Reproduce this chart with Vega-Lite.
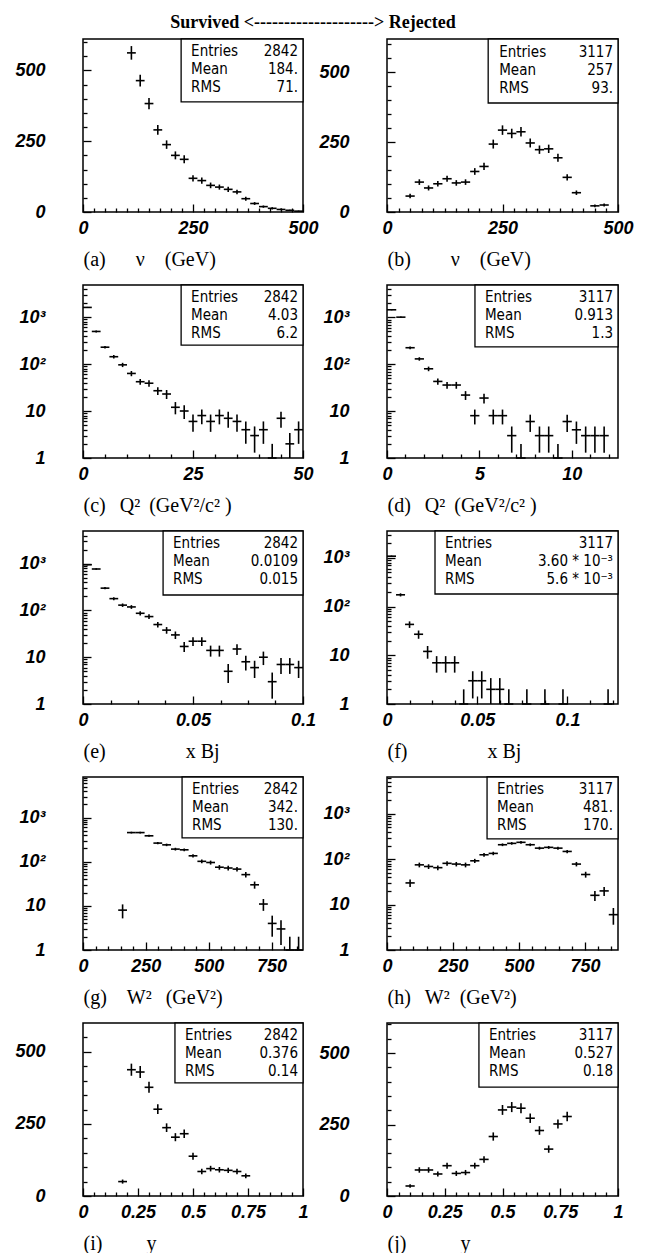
{
"$schema": "https://vega.github.io/schema/vega-lite/v6.json",
"background": "white",
"padding": {"left": 14, "top": 13, "right": 0, "bottom": 0},
"title": {"text": "Survived <--------------------> Rejected", "font": "Liberation Serif", "fontSize": 18, "fontWeight": "bold", "anchor": "middle", "dx": -11, "offset": 6, "color": "black"},
"config": {
  "view": {"stroke": "black", "strokeWidth": 1.5},
  "axis": {"domain": false, "grid": false, "labelFont": "Liberation Sans", "labelFontSize": 18, "labelFontStyle": "italic", "labelFontWeight": "bold", "labelColor": "black", "tickColor": "black", "tickWidth": 1.3, "labelFlush": false, "labelOverlap": false, "titleFont": "Liberation Serif", "titleFontSize": 20, "titleFontWeight": "normal", "titleColor": "black"}
},
"datasets": {
"stats": [
{"p":"a","k":["Entries","Mean","RMS"],"v":["2842","184.","71."]},
{"p":"b","k":["Entries","Mean","RMS"],"v":["3117","257","93."]},
{"p":"c","k":["Entries","Mean","RMS"],"v":["2842","4.03","6.2"]},
{"p":"d","k":["Entries","Mean","RMS"],"v":["3117","0.913","1.3"]},
{"p":"e","k":["Entries","Mean","RMS"],"v":["2842","0.0109","0.015"]},
{"p":"f","k":["Entries","Mean","RMS"],"v":["3117","3.60 * 10⁻³","5.6 * 10⁻³"]},
{"p":"g","k":["Entries","Mean","RMS"],"v":["2842","342.","130."]},
{"p":"h","k":["Entries","Mean","RMS"],"v":["3117","481.","170."]},
{"p":"i","k":["Entries","Mean","RMS"],"v":["2842","0.376","0.14"]},
{"p":"j","k":["Entries","Mean","RMS"],"v":["3117","0.527","0.18"]}
],
"hist": [
{"p":"a","x0":100,"x1":120,"xc":110,"n":562,"lo":538,"hi":586},
{"p":"a","x0":120,"x1":140,"xc":130,"n":464,"lo":443,"hi":485},
{"p":"a","x0":140,"x1":160,"xc":150,"n":383,"lo":363,"hi":403},
{"p":"a","x0":160,"x1":180,"xc":170,"n":290,"lo":273,"hi":307},
{"p":"a","x0":180,"x1":200,"xc":190,"n":238,"lo":223,"hi":253},
{"p":"a","x0":200,"x1":220,"xc":210,"n":200,"lo":186,"hi":214},
{"p":"a","x0":220,"x1":240,"xc":230,"n":186,"lo":172,"hi":200},
{"p":"a","x0":240,"x1":260,"xc":250,"n":119,"lo":108,"hi":130},
{"p":"a","x0":260,"x1":280,"xc":270,"n":111,"lo":100,"hi":122},
{"p":"a","x0":280,"x1":300,"xc":290,"n":94,"lo":84,"hi":104},
{"p":"a","x0":300,"x1":320,"xc":310,"n":88,"lo":79,"hi":97},
{"p":"a","x0":320,"x1":340,"xc":330,"n":80,"lo":71,"hi":89},
{"p":"a","x0":340,"x1":360,"xc":350,"n":71,"lo":63,"hi":79},
{"p":"a","x0":360,"x1":380,"xc":370,"n":47,"lo":40,"hi":54},
{"p":"a","x0":380,"x1":400,"xc":390,"n":30,"lo":25,"hi":35},
{"p":"a","x0":400,"x1":420,"xc":410,"n":19,"lo":15,"hi":23},
{"p":"a","x0":420,"x1":440,"xc":430,"n":13,"lo":9,"hi":17},
{"p":"a","x0":440,"x1":460,"xc":450,"n":9,"lo":6,"hi":12},
{"p":"a","x0":460,"x1":480,"xc":470,"n":6,"lo":4,"hi":8},
{"p":"a","x0":480,"x1":500,"xc":490,"n":3,"lo":1,"hi":5},
{"p":"b","x0":40,"x1":60,"xc":50,"n":57,"lo":49,"hi":65},
{"p":"b","x0":60,"x1":80,"xc":70,"n":107,"lo":97,"hi":117},
{"p":"b","x0":80,"x1":100,"xc":90,"n":86,"lo":77,"hi":95},
{"p":"b","x0":100,"x1":120,"xc":110,"n":101,"lo":91,"hi":111},
{"p":"b","x0":120,"x1":140,"xc":130,"n":119,"lo":108,"hi":130},
{"p":"b","x0":140,"x1":160,"xc":150,"n":104,"lo":94,"hi":114},
{"p":"b","x0":160,"x1":180,"xc":170,"n":107,"lo":97,"hi":117},
{"p":"b","x0":180,"x1":200,"xc":190,"n":145,"lo":133,"hi":157},
{"p":"b","x0":200,"x1":220,"xc":210,"n":163,"lo":150,"hi":176},
{"p":"b","x0":220,"x1":240,"xc":230,"n":243,"lo":227,"hi":259},
{"p":"b","x0":240,"x1":260,"xc":250,"n":293,"lo":276,"hi":310},
{"p":"b","x0":260,"x1":280,"xc":270,"n":281,"lo":264,"hi":298},
{"p":"b","x0":280,"x1":300,"xc":290,"n":287,"lo":270,"hi":304},
{"p":"b","x0":300,"x1":320,"xc":310,"n":247,"lo":231,"hi":263},
{"p":"b","x0":320,"x1":340,"xc":330,"n":223,"lo":208,"hi":238},
{"p":"b","x0":340,"x1":360,"xc":350,"n":226,"lo":211,"hi":241},
{"p":"b","x0":360,"x1":380,"xc":370,"n":194,"lo":180,"hi":208},
{"p":"b","x0":380,"x1":400,"xc":390,"n":124,"lo":113,"hi":135},
{"p":"b","x0":400,"x1":420,"xc":410,"n":69,"lo":61,"hi":77},
{"p":"b","x0":440,"x1":460,"xc":450,"n":22,"lo":17,"hi":27},
{"p":"b","x0":460,"x1":480,"xc":470,"n":25,"lo":20,"hi":30},
{"p":"c","x0":0,"x1":2,"xc":1,"n":1600,"lo":1560,"hi":1640},
{"p":"c","x0":2,"x1":4,"xc":3,"n":493,"lo":471,"hi":515},
{"p":"c","x0":4,"x1":6,"xc":5,"n":228,"lo":213,"hi":243},
{"p":"c","x0":6,"x1":8,"xc":7,"n":143,"lo":131,"hi":155},
{"p":"c","x0":8,"x1":10,"xc":9,"n":96,"lo":86,"hi":106},
{"p":"c","x0":10,"x1":12,"xc":11,"n":63,"lo":55,"hi":71},
{"p":"c","x0":12,"x1":14,"xc":13,"n":42,"lo":36,"hi":48},
{"p":"c","x0":14,"x1":16,"xc":15,"n":39,"lo":33,"hi":45},
{"p":"c","x0":16,"x1":18,"xc":17,"n":27,"lo":22,"hi":32},
{"p":"c","x0":18,"x1":20,"xc":19,"n":23,"lo":18,"hi":28},
{"p":"c","x0":20,"x1":22,"xc":21,"n":12,"lo":8.5,"hi":15.5},
{"p":"c","x0":22,"x1":24,"xc":23,"n":10,"lo":6.8,"hi":13.2},
{"p":"c","x0":24,"x1":26,"xc":25,"n":6,"lo":3.6,"hi":8.4},
{"p":"c","x0":26,"x1":28,"xc":27,"n":8,"lo":5.2,"hi":10.8},
{"p":"c","x0":28,"x1":30,"xc":29,"n":6,"lo":3.6,"hi":8.4},
{"p":"c","x0":30,"x1":32,"xc":31,"n":8,"lo":5.2,"hi":10.8},
{"p":"c","x0":32,"x1":34,"xc":33,"n":7,"lo":4.4,"hi":9.6},
{"p":"c","x0":34,"x1":36,"xc":35,"n":6,"lo":3.6,"hi":8.4},
{"p":"c","x0":36,"x1":38,"xc":37,"n":4,"lo":2,"hi":6},
{"p":"c","x0":38,"x1":40,"xc":39,"n":3,"lo":1.3,"hi":4.7},
{"p":"c","x0":40,"x1":42,"xc":41,"n":4,"lo":2,"hi":6},
{"p":"c","x0":42,"x1":44,"xc":43,"n":1,"lo":1,"hi":2},
{"p":"c","x0":44,"x1":46,"xc":45,"n":7,"lo":4.4,"hi":9.6},
{"p":"c","x0":46,"x1":48,"xc":47,"n":2,"lo":1,"hi":3.4},
{"p":"c","x0":48,"x1":50,"xc":49,"n":4,"lo":2,"hi":6},
{"p":"d","x0":0,"x1":0.5,"xc":0.25,"n":1450,"lo":1412,"hi":1488},
{"p":"d","x0":0.5,"x1":1,"xc":0.75,"n":1010,"lo":978,"hi":1042},
{"p":"d","x0":1,"x1":1.5,"xc":1.25,"n":225,"lo":210,"hi":240},
{"p":"d","x0":1.5,"x1":2,"xc":1.75,"n":130,"lo":119,"hi":141},
{"p":"d","x0":2,"x1":2.5,"xc":2.25,"n":80,"lo":71,"hi":89},
{"p":"d","x0":2.5,"x1":3,"xc":2.75,"n":43,"lo":36.4,"hi":49.6},
{"p":"d","x0":3,"x1":3.5,"xc":3.25,"n":36,"lo":30,"hi":42},
{"p":"d","x0":3.5,"x1":4,"xc":3.75,"n":36,"lo":30,"hi":42},
{"p":"d","x0":4,"x1":4.5,"xc":4.25,"n":22,"lo":17.3,"hi":26.7},
{"p":"d","x0":4.5,"x1":5,"xc":4.75,"n":8,"lo":5.2,"hi":10.8},
{"p":"d","x0":5,"x1":5.5,"xc":5.25,"n":19,"lo":14.6,"hi":23.4},
{"p":"d","x0":5.5,"x1":6,"xc":5.75,"n":8,"lo":5.2,"hi":10.8},
{"p":"d","x0":6,"x1":6.5,"xc":6.25,"n":8,"lo":5.2,"hi":10.8},
{"p":"d","x0":6.5,"x1":7,"xc":6.75,"n":3,"lo":1.3,"hi":4.7},
{"p":"d","x0":7,"x1":7.5,"xc":7.25,"n":1,"lo":1,"hi":2},
{"p":"d","x0":7.5,"x1":8,"xc":7.75,"n":6,"lo":3.6,"hi":8.4},
{"p":"d","x0":8,"x1":8.5,"xc":8.25,"n":3,"lo":1.3,"hi":4.7},
{"p":"d","x0":8.5,"x1":9,"xc":8.75,"n":3,"lo":1.3,"hi":4.7},
{"p":"d","x0":9,"x1":9.5,"xc":9.25,"n":1,"lo":1,"hi":2},
{"p":"d","x0":9.5,"x1":10,"xc":9.75,"n":6,"lo":3.6,"hi":8.4},
{"p":"d","x0":10,"x1":10.5,"xc":10.25,"n":4,"lo":2,"hi":6},
{"p":"d","x0":10.5,"x1":11,"xc":10.75,"n":3,"lo":1.3,"hi":4.7},
{"p":"d","x0":11,"x1":11.5,"xc":11.25,"n":3,"lo":1.3,"hi":4.7},
{"p":"d","x0":11.5,"x1":12,"xc":11.75,"n":3,"lo":1.3,"hi":4.7},
{"p":"e","x0":0,"x1":0.004,"xc":0.002,"n":950,"lo":919,"hi":981},
{"p":"e","x0":0.004,"x1":0.008,"xc":0.006,"n":770,"lo":742,"hi":798},
{"p":"e","x0":0.008,"x1":0.012,"xc":0.01,"n":300,"lo":283,"hi":317},
{"p":"e","x0":0.012,"x1":0.016,"xc":0.014,"n":179,"lo":166,"hi":192},
{"p":"e","x0":0.016,"x1":0.02,"xc":0.018,"n":130,"lo":119,"hi":141},
{"p":"e","x0":0.02,"x1":0.024,"xc":0.022,"n":119,"lo":108,"hi":130},
{"p":"e","x0":0.024,"x1":0.028,"xc":0.026,"n":87,"lo":78,"hi":96},
{"p":"e","x0":0.028,"x1":0.032,"xc":0.03,"n":74,"lo":65.4,"hi":82.6},
{"p":"e","x0":0.032,"x1":0.036,"xc":0.034,"n":50,"lo":43,"hi":57},
{"p":"e","x0":0.036,"x1":0.04,"xc":0.038,"n":38,"lo":31.8,"hi":44.2},
{"p":"e","x0":0.04,"x1":0.044,"xc":0.042,"n":30,"lo":24.5,"hi":35.5},
{"p":"e","x0":0.044,"x1":0.048,"xc":0.046,"n":17,"lo":12.9,"hi":21.1},
{"p":"e","x0":0.048,"x1":0.052,"xc":0.05,"n":22,"lo":17.3,"hi":26.7},
{"p":"e","x0":0.052,"x1":0.056,"xc":0.054,"n":22,"lo":17.3,"hi":26.7},
{"p":"e","x0":0.056,"x1":0.06,"xc":0.058,"n":14,"lo":10.3,"hi":17.7},
{"p":"e","x0":0.06,"x1":0.064,"xc":0.062,"n":14,"lo":10.3,"hi":17.7},
{"p":"e","x0":0.064,"x1":0.068,"xc":0.066,"n":5,"lo":2.8,"hi":7.2},
{"p":"e","x0":0.068,"x1":0.072,"xc":0.07,"n":15,"lo":11.1,"hi":18.9},
{"p":"e","x0":0.072,"x1":0.076,"xc":0.074,"n":8,"lo":5.2,"hi":10.8},
{"p":"e","x0":0.076,"x1":0.08,"xc":0.078,"n":6,"lo":3.6,"hi":8.4},
{"p":"e","x0":0.08,"x1":0.084,"xc":0.082,"n":10,"lo":6.8,"hi":13.2},
{"p":"e","x0":0.084,"x1":0.088,"xc":0.086,"n":3,"lo":1.3,"hi":4.7},
{"p":"e","x0":0.088,"x1":0.092,"xc":0.09,"n":7,"lo":4.4,"hi":9.6},
{"p":"e","x0":0.092,"x1":0.096,"xc":0.094,"n":7,"lo":4.4,"hi":9.6},
{"p":"e","x0":0.096,"x1":0.1,"xc":0.098,"n":6,"lo":3.6,"hi":8.4},
{"p":"f","x0":0,"x1":0.005,"xc":0.0025,"n":1080,"lo":1047,"hi":1113},
{"p":"f","x0":0.005,"x1":0.01,"xc":0.0075,"n":174,"lo":161,"hi":187},
{"p":"f","x0":0.01,"x1":0.015,"xc":0.0125,"n":43,"lo":36.4,"hi":49.6},
{"p":"f","x0":0.015,"x1":0.02,"xc":0.0175,"n":27,"lo":21.8,"hi":32.2},
{"p":"f","x0":0.02,"x1":0.025,"xc":0.0225,"n":12,"lo":8.5,"hi":15.5},
{"p":"f","x0":0.025,"x1":0.03,"xc":0.0275,"n":7,"lo":4.4,"hi":9.6},
{"p":"f","x0":0.03,"x1":0.035,"xc":0.0325,"n":7,"lo":4.4,"hi":9.6},
{"p":"f","x0":0.035,"x1":0.04,"xc":0.0375,"n":7,"lo":4.4,"hi":9.6},
{"p":"f","x0":0.04,"x1":0.045,"xc":0.0425,"n":1,"lo":1,"hi":2},
{"p":"f","x0":0.045,"x1":0.05,"xc":0.0475,"n":3,"lo":1.3,"hi":4.7},
{"p":"f","x0":0.05,"x1":0.055,"xc":0.0525,"n":3,"lo":1.3,"hi":4.7},
{"p":"f","x0":0.055,"x1":0.06,"xc":0.0575,"n":2,"lo":1,"hi":3.4},
{"p":"f","x0":0.06,"x1":0.065,"xc":0.0625,"n":2,"lo":1,"hi":3.4},
{"p":"f","x0":0.065,"x1":0.07,"xc":0.0675,"n":1,"lo":1,"hi":2},
{"p":"f","x0":0.075,"x1":0.08,"xc":0.0775,"n":1,"lo":1,"hi":2},
{"p":"f","x0":0.085,"x1":0.09,"xc":0.0875,"n":1,"lo":1,"hi":2},
{"p":"f","x0":0.095,"x1":0.1,"xc":0.0975,"n":1,"lo":1,"hi":2},
{"p":"f","x0":0.12,"x1":0.125,"xc":0.1225,"n":1,"lo":1,"hi":2},
{"p":"g","x0":140,"x1":175,"xc":157.5,"n":8,"lo":5.2,"hi":10.8},
{"p":"g","x0":175,"x1":210,"xc":192.5,"n":457,"lo":436,"hi":478},
{"p":"g","x0":210,"x1":245,"xc":227.5,"n":457,"lo":436,"hi":478},
{"p":"g","x0":245,"x1":280,"xc":262.5,"n":386,"lo":366,"hi":406},
{"p":"g","x0":280,"x1":315,"xc":297.5,"n":264,"lo":248,"hi":280},
{"p":"g","x0":315,"x1":350,"xc":332.5,"n":241,"lo":225,"hi":257},
{"p":"g","x0":350,"x1":385,"xc":367.5,"n":193,"lo":179,"hi":207},
{"p":"g","x0":385,"x1":420,"xc":402.5,"n":186,"lo":172,"hi":200},
{"p":"g","x0":420,"x1":455,"xc":437.5,"n":136,"lo":124,"hi":148},
{"p":"g","x0":455,"x1":490,"xc":472.5,"n":102,"lo":92,"hi":112},
{"p":"g","x0":490,"x1":525,"xc":507.5,"n":96,"lo":86,"hi":106},
{"p":"g","x0":525,"x1":560,"xc":542.5,"n":75,"lo":66,"hi":84},
{"p":"g","x0":560,"x1":595,"xc":577.5,"n":72,"lo":63.5,"hi":80.5},
{"p":"g","x0":595,"x1":630,"xc":612.5,"n":68,"lo":59.8,"hi":76.2},
{"p":"g","x0":630,"x1":665,"xc":647.5,"n":51,"lo":43.9,"hi":58.1},
{"p":"g","x0":665,"x1":700,"xc":682.5,"n":30,"lo":24.5,"hi":35.5},
{"p":"g","x0":700,"x1":735,"xc":717.5,"n":11,"lo":7.7,"hi":14.3},
{"p":"g","x0":735,"x1":770,"xc":752.5,"n":4,"lo":2,"hi":6},
{"p":"g","x0":770,"x1":805,"xc":787.5,"n":3,"lo":1.3,"hi":4.7},
{"p":"g","x0":805,"x1":840,"xc":822.5,"n":1,"lo":1,"hi":2},
{"p":"g","x0":840,"x1":875,"xc":857.5,"n":1,"lo":1,"hi":2},
{"p":"h","x0":70,"x1":105,"xc":87.5,"n":30,"lo":24.5,"hi":35.5},
{"p":"h","x0":105,"x1":140,"xc":122.5,"n":75,"lo":66,"hi":84},
{"p":"h","x0":140,"x1":175,"xc":157.5,"n":69,"lo":60.7,"hi":77.3},
{"p":"h","x0":175,"x1":210,"xc":192.5,"n":65,"lo":57,"hi":73},
{"p":"h","x0":210,"x1":245,"xc":227.5,"n":81,"lo":72,"hi":90},
{"p":"h","x0":245,"x1":280,"xc":262.5,"n":78,"lo":69.2,"hi":86.8},
{"p":"h","x0":280,"x1":315,"xc":297.5,"n":75,"lo":66,"hi":84},
{"p":"h","x0":315,"x1":350,"xc":332.5,"n":92,"lo":82.4,"hi":101.6},
{"p":"h","x0":350,"x1":385,"xc":367.5,"n":125,"lo":113.8,"hi":136.2},
{"p":"h","x0":385,"x1":420,"xc":402.5,"n":134,"lo":122.4,"hi":145.6},
{"p":"h","x0":420,"x1":455,"xc":437.5,"n":208,"lo":193.6,"hi":222.4},
{"p":"h","x0":455,"x1":490,"xc":472.5,"n":223,"lo":208,"hi":238},
{"p":"h","x0":490,"x1":525,"xc":507.5,"n":235,"lo":219.7,"hi":250.3},
{"p":"h","x0":525,"x1":560,"xc":542.5,"n":208,"lo":193.6,"hi":222.4},
{"p":"h","x0":560,"x1":595,"xc":577.5,"n":175,"lo":161.8,"hi":188.2},
{"p":"h","x0":595,"x1":630,"xc":612.5,"n":182,"lo":168.5,"hi":195.5},
{"p":"h","x0":630,"x1":665,"xc":647.5,"n":175,"lo":161.8,"hi":188.2},
{"p":"h","x0":665,"x1":700,"xc":682.5,"n":148,"lo":135.8,"hi":160.2},
{"p":"h","x0":700,"x1":735,"xc":717.5,"n":78,"lo":69.2,"hi":86.8},
{"p":"h","x0":735,"x1":770,"xc":752.5,"n":46,"lo":39.2,"hi":52.8},
{"p":"h","x0":770,"x1":805,"xc":787.5,"n":16,"lo":12,"hi":20},
{"p":"h","x0":805,"x1":840,"xc":822.5,"n":20,"lo":15.5,"hi":24.5},
{"p":"h","x0":840,"x1":875,"xc":857.5,"n":6,"lo":3.6,"hi":8.4},
{"p":"i","x0":0.16,"x1":0.2,"xc":0.18,"n":50,"lo":42.9,"hi":57.1},
{"p":"i","x0":0.2,"x1":0.24,"xc":0.22,"n":438,"lo":417,"hi":459},
{"p":"i","x0":0.24,"x1":0.28,"xc":0.26,"n":430,"lo":409,"hi":451},
{"p":"i","x0":0.28,"x1":0.32,"xc":0.3,"n":377,"lo":358,"hi":396},
{"p":"i","x0":0.32,"x1":0.36,"xc":0.34,"n":301,"lo":284,"hi":318},
{"p":"i","x0":0.36,"x1":0.4,"xc":0.38,"n":237,"lo":222,"hi":252},
{"p":"i","x0":0.4,"x1":0.44,"xc":0.42,"n":204,"lo":190,"hi":218},
{"p":"i","x0":0.44,"x1":0.48,"xc":0.46,"n":216,"lo":201,"hi":231},
{"p":"i","x0":0.48,"x1":0.52,"xc":0.5,"n":138,"lo":126,"hi":150},
{"p":"i","x0":0.52,"x1":0.56,"xc":0.54,"n":85,"lo":75.8,"hi":94.2},
{"p":"i","x0":0.56,"x1":0.6,"xc":0.58,"n":95,"lo":85.3,"hi":104.7},
{"p":"i","x0":0.6,"x1":0.64,"xc":0.62,"n":91,"lo":81.5,"hi":100.5},
{"p":"i","x0":0.64,"x1":0.68,"xc":0.66,"n":89,"lo":79.6,"hi":98.4},
{"p":"i","x0":0.68,"x1":0.72,"xc":0.7,"n":85,"lo":75.8,"hi":94.2},
{"p":"i","x0":0.72,"x1":0.76,"xc":0.74,"n":70,"lo":61.6,"hi":78.4},
{"p":"j","x0":0.08,"x1":0.12,"xc":0.1,"n":35,"lo":29.1,"hi":40.9},
{"p":"j","x0":0.12,"x1":0.16,"xc":0.14,"n":91,"lo":81.5,"hi":100.5},
{"p":"j","x0":0.16,"x1":0.2,"xc":0.18,"n":91,"lo":81.5,"hi":100.5},
{"p":"j","x0":0.2,"x1":0.24,"xc":0.22,"n":77,"lo":68.2,"hi":85.8},
{"p":"j","x0":0.24,"x1":0.28,"xc":0.26,"n":106,"lo":95.7,"hi":116.3},
{"p":"j","x0":0.28,"x1":0.32,"xc":0.3,"n":79,"lo":70.1,"hi":87.9},
{"p":"j","x0":0.32,"x1":0.36,"xc":0.34,"n":82,"lo":72.9,"hi":91.1},
{"p":"j","x0":0.36,"x1":0.4,"xc":0.38,"n":106,"lo":95.7,"hi":116.3},
{"p":"j","x0":0.4,"x1":0.44,"xc":0.42,"n":128,"lo":116.7,"hi":139.3},
{"p":"j","x0":0.44,"x1":0.48,"xc":0.46,"n":208,"lo":193.6,"hi":222.4},
{"p":"j","x0":0.48,"x1":0.52,"xc":0.5,"n":301,"lo":283.7,"hi":318.3},
{"p":"j","x0":0.52,"x1":0.56,"xc":0.54,"n":311,"lo":293.4,"hi":328.6},
{"p":"j","x0":0.56,"x1":0.6,"xc":0.58,"n":307,"lo":289.5,"hi":324.5},
{"p":"j","x0":0.6,"x1":0.64,"xc":0.62,"n":272,"lo":255.5,"hi":288.5},
{"p":"j","x0":0.64,"x1":0.68,"xc":0.66,"n":229,"lo":213.9,"hi":244.1},
{"p":"j","x0":0.68,"x1":0.72,"xc":0.7,"n":164,"lo":151.2,"hi":176.8},
{"p":"j","x0":0.72,"x1":0.76,"xc":0.74,"n":252,"lo":236.1,"hi":267.9},
{"p":"j","x0":0.76,"x1":0.8,"xc":0.78,"n":278,"lo":261.3,"hi":294.7}
]
},
"spacing": 13,
"vconcat": [
{"hconcat": [
{"width": 220, "height": 173, "resolve": {"axis": {"x": "independent", "y": "independent"}},
 "layer": [
  {"data": {"name": "hist"}, "transform": [{"filter": {"field": "p", "equal": "a"}}], "mark": {"type": "rule", "color": "black", "strokeWidth": 1.6},
   "encoding": {
    "x": {"field": "x0", "type": "quantitative", "scale": {"domain": [0, 500], "nice": false, "zero": false}, "axis": {"orient": "bottom", "values": [0, 250, 500], "labelExpr": "'' + datum.value", "tickSize": -8, "labelPadding": 15, "title": "(a)\u2003\u2002ν\u2003(GeV)", "titleX": 0, "titleY": 47, "titleAlign": "left", "titleBaseline": "middle"}},
    "x2": {"field": "x1"},
    "y": {"field": "n", "type": "quantitative", "scale": {"domain": [0, 611], "nice": false, "zero": false}, "axis": {"orient": "left", "values": [0, 250, 500], "labelExpr": "'' + datum.value", "tickSize": -8, "labelPadding": 46, "title": null}}}},
  {"data": {"name": "hist"}, "transform": [{"filter": {"field": "p", "equal": "a"}}], "mark": {"type": "rule", "color": "black", "strokeWidth": 1.6},
   "encoding": {
    "x": {"field": "xc", "type": "quantitative", "axis": {"orient": "bottom", "values": [25,50,75,100,125,150,175,200,225,275,300,325,350,375,400,425,450,475], "labels": false, "tickSize": -4, "title": null}},
    "y": {"field": "lo", "type": "quantitative", "axis": {"orient": "left", "values": [50,100,150,200,300,350,400,450,550,600], "labels": false, "tickSize": -4, "title": null}},
    "y2": {"field": "hi"}}},
  {"data": {"name": "stats"}, "transform": [{"filter": {"field": "p", "equal": "a"}}], "mark": {"type": "rect", "fill": "white", "stroke": "black", "strokeWidth": 1.3},
   "encoding": {"x": {"datum": 223, "type": "quantitative", "axis": null}, "x2": {"datum": 500}, "y": {"datum": 389, "type": "quantitative", "axis": null}, "y2": {"datum": 611}}},
  {"data": {"name": "stats"}, "transform": [{"filter": {"field": "p", "equal": "a"}}], "mark": {"type": "text", "align": "left", "baseline": "top", "dx": 10, "dy": 5, "lineHeight": 18, "font": "Liberation Sans Narrow, DejaVu Sans Condensed, Liberation Sans, sans-serif", "fontSize": 15, "color": "black"},
   "encoding": {"x": {"datum": 223, "type": "quantitative", "axis": null}, "y": {"datum": 611, "type": "quantitative", "axis": null}, "text": {"field": "k", "type": "nominal"}}},
  {"data": {"name": "stats"}, "transform": [{"filter": {"field": "p", "equal": "a"}}], "mark": {"type": "text", "align": "right", "baseline": "top", "dx": -5, "dy": 5, "lineHeight": 18, "font": "Liberation Sans Narrow, DejaVu Sans Condensed, Liberation Sans, sans-serif", "fontSize": 15, "color": "black"},
   "encoding": {"x": {"datum": 500, "type": "quantitative", "axis": null}, "y": {"datum": 611, "type": "quantitative", "axis": null}, "text": {"field": "v", "type": "nominal"}}}
 ]},
{"width": 231, "height": 173, "resolve": {"axis": {"x": "independent", "y": "independent"}},
 "layer": [
  {"data": {"name": "hist"}, "transform": [{"filter": {"field": "p", "equal": "b"}}], "mark": {"type": "rule", "color": "black", "strokeWidth": 1.6},
   "encoding": {
    "x": {"field": "x0", "type": "quantitative", "scale": {"domain": [0, 500], "nice": false, "zero": false}, "axis": {"orient": "bottom", "values": [0, 250, 500], "labelExpr": "'' + datum.value", "tickSize": -8, "labelPadding": 15, "title": "(b)\u2003\u2003ν\u2003(GeV)", "titleX": 0, "titleY": 47, "titleAlign": "left", "titleBaseline": "middle"}},
    "x2": {"field": "x1"},
    "y": {"field": "n", "type": "quantitative", "scale": {"domain": [0, 619], "nice": false, "zero": false}, "axis": {"orient": "left", "values": [0, 250, 500], "labelExpr": "'' + datum.value", "tickSize": -8, "labelPadding": 46, "title": null}}}},
  {"data": {"name": "hist"}, "transform": [{"filter": {"field": "p", "equal": "b"}}], "mark": {"type": "rule", "color": "black", "strokeWidth": 1.6},
   "encoding": {
    "x": {"field": "xc", "type": "quantitative", "axis": {"orient": "bottom", "values": [25,50,75,100,125,150,175,200,225,275,300,325,350,375,400,425,450,475], "labels": false, "tickSize": -4, "title": null}},
    "y": {"field": "lo", "type": "quantitative", "axis": {"orient": "left", "values": [50,100,150,200,300,350,400,450,550,600], "labels": false, "tickSize": -4, "title": null}},
    "y2": {"field": "hi"}}},
  {"data": {"name": "stats"}, "transform": [{"filter": {"field": "p", "equal": "b"}}], "mark": {"type": "rect", "fill": "white", "stroke": "black", "strokeWidth": 1.3},
   "encoding": {"x": {"datum": 219, "type": "quantitative", "axis": null}, "x2": {"datum": 500}, "y": {"datum": 390, "type": "quantitative", "axis": null}, "y2": {"datum": 619}}},
  {"data": {"name": "stats"}, "transform": [{"filter": {"field": "p", "equal": "b"}}], "mark": {"type": "text", "align": "left", "baseline": "top", "dx": 11, "dy": 6, "lineHeight": 18, "font": "Liberation Sans Narrow, DejaVu Sans Condensed, Liberation Sans, sans-serif", "fontSize": 15, "color": "black"},
   "encoding": {"x": {"datum": 219, "type": "quantitative", "axis": null}, "y": {"datum": 619, "type": "quantitative", "axis": null}, "text": {"field": "k", "type": "nominal"}}},
  {"data": {"name": "stats"}, "transform": [{"filter": {"field": "p", "equal": "b"}}], "mark": {"type": "text", "align": "right", "baseline": "top", "dx": -5, "dy": 6, "lineHeight": 18, "font": "Liberation Sans Narrow, DejaVu Sans Condensed, Liberation Sans, sans-serif", "fontSize": 15, "color": "black"},
   "encoding": {"x": {"datum": 500, "type": "quantitative", "axis": null}, "y": {"datum": 619, "type": "quantitative", "axis": null}, "text": {"field": "v", "type": "nominal"}}}
 ]}
], "spacing": 84, "bounds": "flush"},
{"hconcat": [
{"width": 220, "height": 173, "resolve": {"axis": {"x": "independent", "y": "independent"}},
 "layer": [
  {"data": {"name": "hist"}, "transform": [{"filter": {"field": "p", "equal": "c"}}], "mark": {"type": "rule", "color": "black", "strokeWidth": 1.6},
   "encoding": {
    "x": {"field": "x0", "type": "quantitative", "scale": {"domain": [0, 50], "nice": false, "zero": false}, "axis": {"orient": "bottom", "values": [0, 25, 50], "labelExpr": "'' + datum.value", "tickSize": -8, "labelPadding": 15, "title": "(c)\u2002\u2009Q² \u2009(GeV²/c² )", "titleX": 0, "titleY": 47, "titleAlign": "left", "titleBaseline": "middle"}},
    "x2": {"field": "x1"},
    "y": {"field": "n", "type": "quantitative", "scale": {"type": "log", "domain": [1, 4800], "nice": false}, "axis": {"orient": "left", "values": [1, 10, 100, 1000], "labelExpr": "datum.value == 1 ? '1' : datum.value == 10 ? '10' : datum.value == 100 ? '10²' : '10³'", "tickSize": -8, "labelPadding": 46, "title": null}}}},
  {"data": {"name": "hist"}, "transform": [{"filter": {"field": "p", "equal": "c"}}], "mark": {"type": "rule", "color": "black", "strokeWidth": 1.6},
   "encoding": {
    "x": {"field": "xc", "type": "quantitative", "axis": {"orient": "bottom", "values": [5,10,15,20,30,35,40,45], "labels": false, "tickSize": -4, "title": null}},
    "y": {"field": "lo", "type": "quantitative", "axis": {"orient": "left", "values": [2,3,4,5,6,7,8,9,20,30,40,50,60,70,80,90,200,300,400,500,600,700,800,900,2000,3000,4000], "labels": false, "tickSize": -4, "title": null}},
    "y2": {"field": "hi"}}},
  {"data": {"name": "stats"}, "transform": [{"filter": {"field": "p", "equal": "c"}}], "mark": {"type": "rect", "fill": "white", "stroke": "black", "strokeWidth": 1.3},
   "encoding": {"x": {"datum": 22.3, "type": "quantitative", "axis": null}, "x2": {"datum": 50}, "y": {"datum": 253, "type": "quantitative", "axis": null}, "y2": {"datum": 4800}}},
  {"data": {"name": "stats"}, "transform": [{"filter": {"field": "p", "equal": "c"}}], "mark": {"type": "text", "align": "left", "baseline": "top", "dx": 10, "dy": 5, "lineHeight": 18, "font": "Liberation Sans Narrow, DejaVu Sans Condensed, Liberation Sans, sans-serif", "fontSize": 15, "color": "black"},
   "encoding": {"x": {"datum": 22.3, "type": "quantitative", "axis": null}, "y": {"datum": 4800, "type": "quantitative", "axis": null}, "text": {"field": "k", "type": "nominal"}}},
  {"data": {"name": "stats"}, "transform": [{"filter": {"field": "p", "equal": "c"}}], "mark": {"type": "text", "align": "right", "baseline": "top", "dx": -5, "dy": 5, "lineHeight": 18, "font": "Liberation Sans Narrow, DejaVu Sans Condensed, Liberation Sans, sans-serif", "fontSize": 15, "color": "black"},
   "encoding": {"x": {"datum": 50, "type": "quantitative", "axis": null}, "y": {"datum": 4800, "type": "quantitative", "axis": null}, "text": {"field": "v", "type": "nominal"}}}
 ]},
{"width": 231, "height": 173, "resolve": {"axis": {"x": "independent", "y": "independent"}},
 "layer": [
  {"data": {"name": "hist"}, "transform": [{"filter": {"field": "p", "equal": "d"}}], "mark": {"type": "rule", "color": "black", "strokeWidth": 1.6},
   "encoding": {
    "x": {"field": "x0", "type": "quantitative", "scale": {"domain": [0, 12.5], "nice": false, "zero": false}, "axis": {"orient": "bottom", "values": [0, 5, 10], "labelExpr": "'' + datum.value", "tickSize": -8, "labelPadding": 15, "title": "(d)\u2002\u2009Q² \u2009(GeV²/c² )", "titleX": 0, "titleY": 47, "titleAlign": "left", "titleBaseline": "middle"}},
    "x2": {"field": "x1"},
    "y": {"field": "n", "type": "quantitative", "scale": {"type": "log", "domain": [1, 4900], "nice": false}, "axis": {"orient": "left", "values": [1, 10, 100, 1000], "labelExpr": "datum.value == 1 ? '1' : datum.value == 10 ? '10' : datum.value == 100 ? '10²' : '10³'", "tickSize": -8, "labelPadding": 46, "title": null}}}},
  {"data": {"name": "hist"}, "transform": [{"filter": {"field": "p", "equal": "d"}}], "mark": {"type": "rule", "color": "black", "strokeWidth": 1.6},
   "encoding": {
    "x": {"field": "xc", "type": "quantitative", "axis": {"orient": "bottom", "values": [1,2,3,4,6,7,8,9,11,12], "labels": false, "tickSize": -4, "title": null}},
    "y": {"field": "lo", "type": "quantitative", "axis": {"orient": "left", "values": [2,3,4,5,6,7,8,9,20,30,40,50,60,70,80,90,200,300,400,500,600,700,800,900,2000,3000,4000], "labels": false, "tickSize": -4, "title": null}},
    "y2": {"field": "hi"}}},
  {"data": {"name": "stats"}, "transform": [{"filter": {"field": "p", "equal": "d"}}], "mark": {"type": "rect", "fill": "white", "stroke": "black", "strokeWidth": 1.3},
   "encoding": {"x": {"datum": 4.76, "type": "quantitative", "axis": null}, "x2": {"datum": 12.5}, "y": {"datum": 234, "type": "quantitative", "axis": null}, "y2": {"datum": 4900}}},
  {"data": {"name": "stats"}, "transform": [{"filter": {"field": "p", "equal": "d"}}], "mark": {"type": "text", "align": "left", "baseline": "top", "dx": 10, "dy": 5, "lineHeight": 18, "font": "Liberation Sans Narrow, DejaVu Sans Condensed, Liberation Sans, sans-serif", "fontSize": 15, "color": "black"},
   "encoding": {"x": {"datum": 4.76, "type": "quantitative", "axis": null}, "y": {"datum": 4900, "type": "quantitative", "axis": null}, "text": {"field": "k", "type": "nominal"}}},
  {"data": {"name": "stats"}, "transform": [{"filter": {"field": "p", "equal": "d"}}], "mark": {"type": "text", "align": "right", "baseline": "top", "dx": -5, "dy": 5, "lineHeight": 18, "font": "Liberation Sans Narrow, DejaVu Sans Condensed, Liberation Sans, sans-serif", "fontSize": 15, "color": "black"},
   "encoding": {"x": {"datum": 12.5, "type": "quantitative", "axis": null}, "y": {"datum": 4900, "type": "quantitative", "axis": null}, "text": {"field": "v", "type": "nominal"}}}
 ]}
], "spacing": 84, "bounds": "flush"},
{"hconcat": [
{"width": 220, "height": 173, "resolve": {"axis": {"x": "independent", "y": "independent"}},
 "layer": [
  {"data": {"name": "hist"}, "transform": [{"filter": {"field": "p", "equal": "e"}}], "mark": {"type": "rule", "color": "black", "strokeWidth": 1.6},
   "encoding": {
    "x": {"field": "x0", "type": "quantitative", "scale": {"domain": [0, 0.1], "nice": false, "zero": false}, "axis": {"orient": "bottom", "values": [0, 0.05, 0.1], "labelExpr": "'' + datum.value", "tickSize": -8, "labelPadding": 15, "title": "(e)\u2003\u2003\u2003\u2003x Bj", "titleX": 0, "titleY": 47, "titleAlign": "left", "titleBaseline": "middle"}},
    "x2": {"field": "x1"},
    "y": {"field": "n", "type": "quantitative", "scale": {"type": "log", "domain": [1, 5000], "nice": false}, "axis": {"orient": "left", "values": [1, 10, 100, 1000], "labelExpr": "datum.value == 1 ? '1' : datum.value == 10 ? '10' : datum.value == 100 ? '10²' : '10³'", "tickSize": -8, "labelPadding": 46, "title": null}}}},
  {"data": {"name": "hist"}, "transform": [{"filter": {"field": "p", "equal": "e"}}], "mark": {"type": "rule", "color": "black", "strokeWidth": 1.6},
   "encoding": {
    "x": {"field": "xc", "type": "quantitative", "axis": {"orient": "bottom", "values": [0.0125,0.025,0.0375,0.0625,0.075,0.0875], "labels": false, "tickSize": -4, "title": null}},
    "y": {"field": "lo", "type": "quantitative", "axis": {"orient": "left", "values": [2,3,4,5,6,7,8,9,20,30,40,50,60,70,80,90,200,300,400,500,600,700,800,900,2000,3000,4000], "labels": false, "tickSize": -4, "title": null}},
    "y2": {"field": "hi"}}},
  {"data": {"name": "stats"}, "transform": [{"filter": {"field": "p", "equal": "e"}}], "mark": {"type": "rect", "fill": "white", "stroke": "black", "strokeWidth": 1.3},
   "encoding": {"x": {"datum": 0.0364, "type": "quantitative", "axis": null}, "x2": {"datum": 0.1}, "y": {"datum": 214, "type": "quantitative", "axis": null}, "y2": {"datum": 5000}}},
  {"data": {"name": "stats"}, "transform": [{"filter": {"field": "p", "equal": "e"}}], "mark": {"type": "text", "align": "left", "baseline": "top", "dx": 10, "dy": 5, "lineHeight": 18, "font": "Liberation Sans Narrow, DejaVu Sans Condensed, Liberation Sans, sans-serif", "fontSize": 15, "color": "black"},
   "encoding": {"x": {"datum": 0.0364, "type": "quantitative", "axis": null}, "y": {"datum": 5000, "type": "quantitative", "axis": null}, "text": {"field": "k", "type": "nominal"}}},
  {"data": {"name": "stats"}, "transform": [{"filter": {"field": "p", "equal": "e"}}], "mark": {"type": "text", "align": "right", "baseline": "top", "dx": -5, "dy": 5, "lineHeight": 18, "font": "Liberation Sans Narrow, DejaVu Sans Condensed, Liberation Sans, sans-serif", "fontSize": 15, "color": "black"},
   "encoding": {"x": {"datum": 0.1, "type": "quantitative", "axis": null}, "y": {"datum": 5000, "type": "quantitative", "axis": null}, "text": {"field": "v", "type": "nominal"}}}
 ]},
{"width": 231, "height": 173, "resolve": {"axis": {"x": "independent", "y": "independent"}},
 "layer": [
  {"data": {"name": "hist"}, "transform": [{"filter": {"field": "p", "equal": "f"}}], "mark": {"type": "rule", "color": "black", "strokeWidth": 1.6},
   "encoding": {
    "x": {"field": "x0", "type": "quantitative", "scale": {"domain": [0, 0.128], "nice": false, "zero": false}, "axis": {"orient": "bottom", "values": [0, 0.05, 0.1], "labelExpr": "'' + datum.value", "tickSize": -8, "labelPadding": 15, "title": "(f)\u2003\u2003\u2003\u2003x Bj", "titleX": 0, "titleY": 47, "titleAlign": "left", "titleBaseline": "middle"}},
    "x2": {"field": "x1"},
    "y": {"field": "n", "type": "quantitative", "scale": {"type": "log", "domain": [1, 3550], "nice": false}, "axis": {"orient": "left", "values": [1, 10, 100, 1000], "labelExpr": "datum.value == 1 ? '1' : datum.value == 10 ? '10' : datum.value == 100 ? '10²' : '10³'", "tickSize": -8, "labelPadding": 46, "title": null}}}},
  {"data": {"name": "hist"}, "transform": [{"filter": {"field": "p", "equal": "f"}}], "mark": {"type": "rule", "color": "black", "strokeWidth": 1.6},
   "encoding": {
    "x": {"field": "xc", "type": "quantitative", "axis": {"orient": "bottom", "values": [0.0125,0.025,0.0375,0.0625,0.075,0.0875,0.1125,0.125], "labels": false, "tickSize": -4, "title": null}},
    "y": {"field": "lo", "type": "quantitative", "axis": {"orient": "left", "values": [2,3,4,5,6,7,8,9,20,30,40,50,60,70,80,90,200,300,400,500,600,700,800,900,2000,3000], "labels": false, "tickSize": -4, "title": null}},
    "y2": {"field": "hi"}}},
  {"data": {"name": "stats"}, "transform": [{"filter": {"field": "p", "equal": "f"}}], "mark": {"type": "rect", "fill": "white", "stroke": "black", "strokeWidth": 1.3},
   "encoding": {"x": {"datum": 0.0266, "type": "quantitative", "axis": null}, "x2": {"datum": 0.128}, "y": {"datum": 181, "type": "quantitative", "axis": null}, "y2": {"datum": 3550}}},
  {"data": {"name": "stats"}, "transform": [{"filter": {"field": "p", "equal": "f"}}], "mark": {"type": "text", "align": "left", "baseline": "top", "dx": 10, "dy": 5, "lineHeight": 18, "font": "Liberation Sans Narrow, DejaVu Sans Condensed, Liberation Sans, sans-serif", "fontSize": 15, "color": "black"},
   "encoding": {"x": {"datum": 0.0266, "type": "quantitative", "axis": null}, "y": {"datum": 3550, "type": "quantitative", "axis": null}, "text": {"field": "k", "type": "nominal"}}},
  {"data": {"name": "stats"}, "transform": [{"filter": {"field": "p", "equal": "f"}}], "mark": {"type": "text", "align": "right", "baseline": "top", "dx": -5, "dy": 5, "lineHeight": 18, "font": "Liberation Sans Narrow, DejaVu Sans Condensed, Liberation Sans, sans-serif", "fontSize": 15, "color": "black"},
   "encoding": {"x": {"datum": 0.128, "type": "quantitative", "axis": null}, "y": {"datum": 3550, "type": "quantitative", "axis": null}, "text": {"field": "v", "type": "nominal"}}}
 ]}
], "spacing": 84, "bounds": "flush"},
{"hconcat": [
{"width": 220, "height": 173, "resolve": {"axis": {"x": "independent", "y": "independent"}},
 "layer": [
  {"data": {"name": "hist"}, "transform": [{"filter": {"field": "p", "equal": "g"}}], "mark": {"type": "rule", "color": "black", "strokeWidth": 1.6},
   "encoding": {
    "x": {"field": "x0", "type": "quantitative", "scale": {"domain": [0, 875], "nice": false, "zero": false}, "axis": {"orient": "bottom", "values": [0, 250, 500, 750], "labelExpr": "'' + datum.value", "tickSize": -8, "labelPadding": 15, "title": "(g)\u2003W²\u2002\u2009(GeV²)", "titleX": 0, "titleY": 47, "titleAlign": "left", "titleBaseline": "middle"}},
    "x2": {"field": "x1"},
    "y": {"field": "n", "type": "quantitative", "scale": {"type": "log", "domain": [1, 8300], "nice": false}, "axis": {"orient": "left", "values": [1, 10, 100, 1000], "labelExpr": "datum.value == 1 ? '1' : datum.value == 10 ? '10' : datum.value == 100 ? '10²' : '10³'", "tickSize": -8, "labelPadding": 46, "title": null}}}},
  {"data": {"name": "hist"}, "transform": [{"filter": {"field": "p", "equal": "g"}}], "mark": {"type": "rule", "color": "black", "strokeWidth": 1.6},
   "encoding": {
    "x": {"field": "xc", "type": "quantitative", "axis": {"orient": "bottom", "values": [50,100,150,200,300,350,400,450,550,600,650,700,800,850], "labels": false, "tickSize": -4, "title": null}},
    "y": {"field": "lo", "type": "quantitative", "axis": {"orient": "left", "values": [2,3,4,5,6,7,8,9,20,30,40,50,60,70,80,90,200,300,400,500,600,700,800,900,2000,3000,4000,5000,6000,7000,8000], "labels": false, "tickSize": -4, "title": null}},
    "y2": {"field": "hi"}}},
  {"data": {"name": "stats"}, "transform": [{"filter": {"field": "p", "equal": "g"}}], "mark": {"type": "rect", "fill": "white", "stroke": "black", "strokeWidth": 1.3},
   "encoding": {"x": {"datum": 394, "type": "quantitative", "axis": null}, "x2": {"datum": 875}, "y": {"datum": 345, "type": "quantitative", "axis": null}, "y2": {"datum": 8300}}},
  {"data": {"name": "stats"}, "transform": [{"filter": {"field": "p", "equal": "g"}}], "mark": {"type": "text", "align": "left", "baseline": "top", "dx": 10, "dy": 5, "lineHeight": 18, "font": "Liberation Sans Narrow, DejaVu Sans Condensed, Liberation Sans, sans-serif", "fontSize": 15, "color": "black"},
   "encoding": {"x": {"datum": 394, "type": "quantitative", "axis": null}, "y": {"datum": 8300, "type": "quantitative", "axis": null}, "text": {"field": "k", "type": "nominal"}}},
  {"data": {"name": "stats"}, "transform": [{"filter": {"field": "p", "equal": "g"}}], "mark": {"type": "text", "align": "right", "baseline": "top", "dx": -5, "dy": 5, "lineHeight": 18, "font": "Liberation Sans Narrow, DejaVu Sans Condensed, Liberation Sans, sans-serif", "fontSize": 15, "color": "black"},
   "encoding": {"x": {"datum": 875, "type": "quantitative", "axis": null}, "y": {"datum": 8300, "type": "quantitative", "axis": null}, "text": {"field": "v", "type": "nominal"}}}
 ]},
{"width": 231, "height": 173, "resolve": {"axis": {"x": "independent", "y": "independent"}},
 "layer": [
  {"data": {"name": "hist"}, "transform": [{"filter": {"field": "p", "equal": "h"}}], "mark": {"type": "rule", "color": "black", "strokeWidth": 1.6},
   "encoding": {
    "x": {"field": "x0", "type": "quantitative", "scale": {"domain": [0, 875], "nice": false, "zero": false}, "axis": {"orient": "bottom", "values": [0, 250, 500, 750], "labelExpr": "'' + datum.value", "tickSize": -8, "labelPadding": 15, "title": "(h)\u2002\u2009W²\u2002(GeV²)", "titleX": 0, "titleY": 47, "titleAlign": "left", "titleBaseline": "middle"}},
    "x2": {"field": "x1"},
    "y": {"field": "n", "type": "quantitative", "scale": {"type": "log", "domain": [1, 6450], "nice": false}, "axis": {"orient": "left", "values": [1, 10, 100, 1000], "labelExpr": "datum.value == 1 ? '1' : datum.value == 10 ? '10' : datum.value == 100 ? '10²' : '10³'", "tickSize": -8, "labelPadding": 46, "title": null}}}},
  {"data": {"name": "hist"}, "transform": [{"filter": {"field": "p", "equal": "h"}}], "mark": {"type": "rule", "color": "black", "strokeWidth": 1.6},
   "encoding": {
    "x": {"field": "xc", "type": "quantitative", "axis": {"orient": "bottom", "values": [50,100,150,200,300,350,400,450,550,600,650,700,800,850], "labels": false, "tickSize": -4, "title": null}},
    "y": {"field": "lo", "type": "quantitative", "axis": {"orient": "left", "values": [2,3,4,5,6,7,8,9,20,30,40,50,60,70,80,90,200,300,400,500,600,700,800,900,2000,3000,4000,5000,6000], "labels": false, "tickSize": -4, "title": null}},
    "y2": {"field": "hi"}}},
  {"data": {"name": "stats"}, "transform": [{"filter": {"field": "p", "equal": "h"}}], "mark": {"type": "rect", "fill": "white", "stroke": "black", "strokeWidth": 1.3},
   "encoding": {"x": {"datum": 379, "type": "quantitative", "axis": null}, "x2": {"datum": 875}, "y": {"datum": 280, "type": "quantitative", "axis": null}, "y2": {"datum": 6450}}},
  {"data": {"name": "stats"}, "transform": [{"filter": {"field": "p", "equal": "h"}}], "mark": {"type": "text", "align": "left", "baseline": "top", "dx": 10, "dy": 5, "lineHeight": 18, "font": "Liberation Sans Narrow, DejaVu Sans Condensed, Liberation Sans, sans-serif", "fontSize": 15, "color": "black"},
   "encoding": {"x": {"datum": 379, "type": "quantitative", "axis": null}, "y": {"datum": 6450, "type": "quantitative", "axis": null}, "text": {"field": "k", "type": "nominal"}}},
  {"data": {"name": "stats"}, "transform": [{"filter": {"field": "p", "equal": "h"}}], "mark": {"type": "text", "align": "right", "baseline": "top", "dx": -5, "dy": 5, "lineHeight": 18, "font": "Liberation Sans Narrow, DejaVu Sans Condensed, Liberation Sans, sans-serif", "fontSize": 15, "color": "black"},
   "encoding": {"x": {"datum": 875, "type": "quantitative", "axis": null}, "y": {"datum": 6450, "type": "quantitative", "axis": null}, "text": {"field": "v", "type": "nominal"}}}
 ]}
], "spacing": 84, "bounds": "flush"},
{"hconcat": [
{"width": 220, "height": 173, "resolve": {"axis": {"x": "independent", "y": "independent"}},
 "layer": [
  {"data": {"name": "hist"}, "transform": [{"filter": {"field": "p", "equal": "i"}}], "mark": {"type": "rule", "color": "black", "strokeWidth": 1.6},
   "encoding": {
    "x": {"field": "x0", "type": "quantitative", "scale": {"domain": [0, 1], "nice": false, "zero": false}, "axis": {"orient": "bottom", "values": [0, 0.25, 0.5, 0.75, 1], "labelExpr": "'' + datum.value", "tickSize": -8, "labelPadding": 15, "title": "(i)\u2003\u2003\u2009y", "titleX": 0, "titleY": 47, "titleAlign": "left", "titleBaseline": "middle"}},
    "x2": {"field": "x1"},
    "y": {"field": "n", "type": "quantitative", "scale": {"domain": [0, 600], "nice": false, "zero": false}, "axis": {"orient": "left", "values": [0, 250, 500], "labelExpr": "'' + datum.value", "tickSize": -8, "labelPadding": 46, "title": null}}}},
  {"data": {"name": "hist"}, "transform": [{"filter": {"field": "p", "equal": "i"}}], "mark": {"type": "rule", "color": "black", "strokeWidth": 1.6},
   "encoding": {
    "x": {"field": "xc", "type": "quantitative", "axis": {"orient": "bottom", "values": [0.05,0.1,0.15,0.2,0.3,0.35,0.4,0.45,0.55,0.6,0.65,0.7,0.8,0.85,0.9,0.95], "labels": false, "tickSize": -4, "title": null}},
    "y": {"field": "lo", "type": "quantitative", "axis": {"orient": "left", "values": [50,100,150,200,300,350,400,450,550], "labels": false, "tickSize": -4, "title": null}},
    "y2": {"field": "hi"}}},
  {"data": {"name": "stats"}, "transform": [{"filter": {"field": "p", "equal": "i"}}], "mark": {"type": "rect", "fill": "white", "stroke": "black", "strokeWidth": 1.3},
   "encoding": {"x": {"datum": 0.418, "type": "quantitative", "axis": null}, "x2": {"datum": 1}, "y": {"datum": 392, "type": "quantitative", "axis": null}, "y2": {"datum": 600}}},
  {"data": {"name": "stats"}, "transform": [{"filter": {"field": "p", "equal": "i"}}], "mark": {"type": "text", "align": "left", "baseline": "top", "dx": 10, "dy": 5, "lineHeight": 18, "font": "Liberation Sans Narrow, DejaVu Sans Condensed, Liberation Sans, sans-serif", "fontSize": 15, "color": "black"},
   "encoding": {"x": {"datum": 0.418, "type": "quantitative", "axis": null}, "y": {"datum": 600, "type": "quantitative", "axis": null}, "text": {"field": "k", "type": "nominal"}}},
  {"data": {"name": "stats"}, "transform": [{"filter": {"field": "p", "equal": "i"}}], "mark": {"type": "text", "align": "right", "baseline": "top", "dx": -5, "dy": 5, "lineHeight": 18, "font": "Liberation Sans Narrow, DejaVu Sans Condensed, Liberation Sans, sans-serif", "fontSize": 15, "color": "black"},
   "encoding": {"x": {"datum": 1, "type": "quantitative", "axis": null}, "y": {"datum": 600, "type": "quantitative", "axis": null}, "text": {"field": "v", "type": "nominal"}}}
 ]},
{"width": 231, "height": 173, "resolve": {"axis": {"x": "independent", "y": "independent"}},
 "layer": [
  {"data": {"name": "hist"}, "transform": [{"filter": {"field": "p", "equal": "j"}}], "mark": {"type": "rule", "color": "black", "strokeWidth": 1.6},
   "encoding": {
    "x": {"field": "x0", "type": "quantitative", "scale": {"domain": [0, 1], "nice": false, "zero": false}, "axis": {"orient": "bottom", "values": [0, 0.25, 0.5, 0.75, 1], "labelExpr": "'' + datum.value", "tickSize": -8, "labelPadding": 15, "title": "(j)\u2003\u2003\u2002\u2009y", "titleX": 0, "titleY": 47, "titleAlign": "left", "titleBaseline": "middle"}},
    "x2": {"field": "x1"},
    "y": {"field": "n", "type": "quantitative", "scale": {"domain": [0, 605], "nice": false, "zero": false}, "axis": {"orient": "left", "values": [0, 250, 500], "labelExpr": "'' + datum.value", "tickSize": -8, "labelPadding": 46, "title": null}}}},
  {"data": {"name": "hist"}, "transform": [{"filter": {"field": "p", "equal": "j"}}], "mark": {"type": "rule", "color": "black", "strokeWidth": 1.6},
   "encoding": {
    "x": {"field": "xc", "type": "quantitative", "axis": {"orient": "bottom", "values": [0.05,0.1,0.15,0.2,0.3,0.35,0.4,0.45,0.55,0.6,0.65,0.7,0.8,0.85,0.9,0.95], "labels": false, "tickSize": -4, "title": null}},
    "y": {"field": "lo", "type": "quantitative", "axis": {"orient": "left", "values": [50,100,150,200,300,350,400,450,550,600], "labels": false, "tickSize": -4, "title": null}},
    "y2": {"field": "hi"}}},
  {"data": {"name": "stats"}, "transform": [{"filter": {"field": "p", "equal": "j"}}], "mark": {"type": "rect", "fill": "white", "stroke": "black", "strokeWidth": 1.3},
   "encoding": {"x": {"datum": 0.398, "type": "quantitative", "axis": null}, "x2": {"datum": 1}, "y": {"datum": 381, "type": "quantitative", "axis": null}, "y2": {"datum": 605}}},
  {"data": {"name": "stats"}, "transform": [{"filter": {"field": "p", "equal": "j"}}], "mark": {"type": "text", "align": "left", "baseline": "top", "dx": 10, "dy": 5, "lineHeight": 18, "font": "Liberation Sans Narrow, DejaVu Sans Condensed, Liberation Sans, sans-serif", "fontSize": 15, "color": "black"},
   "encoding": {"x": {"datum": 0.398, "type": "quantitative", "axis": null}, "y": {"datum": 605, "type": "quantitative", "axis": null}, "text": {"field": "k", "type": "nominal"}}},
  {"data": {"name": "stats"}, "transform": [{"filter": {"field": "p", "equal": "j"}}], "mark": {"type": "text", "align": "right", "baseline": "top", "dx": -5, "dy": 5, "lineHeight": 18, "font": "Liberation Sans Narrow, DejaVu Sans Condensed, Liberation Sans, sans-serif", "fontSize": 15, "color": "black"},
   "encoding": {"x": {"datum": 1, "type": "quantitative", "axis": null}, "y": {"datum": 605, "type": "quantitative", "axis": null}, "text": {"field": "v", "type": "nominal"}}}
 ]}
], "spacing": 84, "bounds": "flush"}
]
}
